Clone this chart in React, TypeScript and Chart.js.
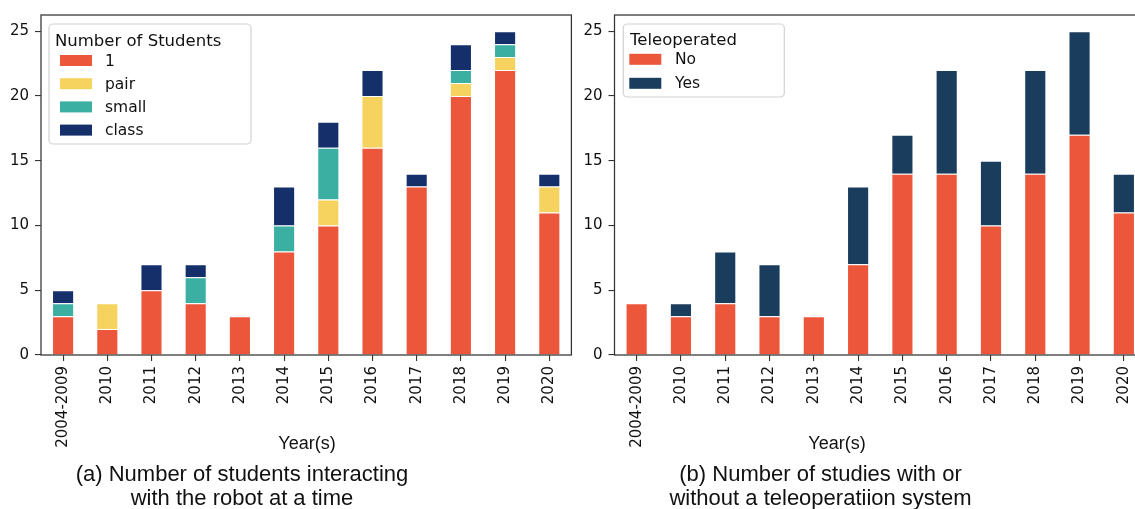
import React, { useEffect, useRef } from "react";
import { Chart, registerables } from "chart.js";

Chart.register(...registerables);

// ---------- data ----------
const YEARS = ["2004-2009", "2010", "2011", "2012", "2013", "2014", "2015", "2016", "2017", "2018", "2019", "2020"];

const STUDENTS_ONE = [3, 2, 5, 4, 3, 8, 10, 16, 13, 20, 22, 11];
const STUDENTS_PAIR = [0, 2, 0, 0, 0, 0, 2, 4, 0, 1, 1, 2];
const STUDENTS_SMALL = [1, 0, 0, 2, 0, 2, 4, 0, 0, 1, 1, 0];
const STUDENTS_CLASS = [1, 0, 2, 1, 0, 3, 2, 2, 1, 2, 1, 1];

const TELEOP_NO = [4, 3, 4, 3, 3, 7, 14, 14, 10, 14, 17, 11];
const TELEOP_YES = [0, 1, 4, 4, 0, 6, 3, 8, 5, 8, 8, 3];

const Y_TICKS = [0, 5, 10, 15, 20, 25];

const LEGEND_A_TITLE = "Number of Students";
const LEGEND_B_TITLE = "Teleoperated";
const X_TITLE = "Year(s)";
const CAPTION_A = ["(a) Number of students interacting", "with the robot at a time"];
const CAPTION_B = ["(b) Number of studies with or", "without a teleoperatiion system"];

// ---------- styles ----------
const COLOR_ONE = "#EC573B";
const COLOR_PAIR = "#F5D35E";
const COLOR_SMALL = "#3BAFA2";
const COLOR_CLASS = "#152F6B";
const COLOR_NO = "#EC573B";
const COLOR_YES = "#1A3D5E";
const TEXT_COLOR = "#111111";
const SPINE_COLOR = "#333333";
const DEJAVU = '"DejaVu Sans", sans-serif';
const ARIAL = '"Liberation Sans", Arial, sans-serif';

const framePlugin = {
  id: "frameBox",
  afterDatasetsDraw(chart: any) {
    const { ctx, chartArea } = chart;
    ctx.save();
    ctx.strokeStyle = SPINE_COLOR;
    ctx.lineWidth = 1.25;
    ctx.strokeRect(chartArea.left, chartArea.top, chartArea.right - chartArea.left, chartArea.bottom - chartArea.top);
    ctx.restore();
  },
};

const legendBoxPlugin = {
  id: "legendBox",
  afterDraw(chart: any, _args: any, opts: any) {
    if (!opts || !opts.title) return;
    const { ctx, chartArea } = chart;
    const x0 = chartArea.left + opts.x;
    const y0 = chartArea.top + opts.y;
    ctx.save();
    const r = 4;
    const w = opts.w;
    const h = opts.h;
    ctx.beginPath();
    ctx.moveTo(x0 + r, y0);
    ctx.lineTo(x0 + w - r, y0);
    ctx.arcTo(x0 + w, y0, x0 + w, y0 + r, r);
    ctx.lineTo(x0 + w, y0 + h - r);
    ctx.arcTo(x0 + w, y0 + h, x0 + w - r, y0 + h, r);
    ctx.lineTo(x0 + r, y0 + h);
    ctx.arcTo(x0, y0 + h, x0, y0 + h - r, r);
    ctx.lineTo(x0, y0 + r);
    ctx.arcTo(x0, y0, x0 + r, y0, r);
    ctx.closePath();
    ctx.fillStyle = "rgba(255,255,255,0.85)";
    ctx.fill();
    ctx.strokeStyle = "#d2d2d2";
    ctx.lineWidth = 1.2;
    ctx.stroke();

    ctx.fillStyle = TEXT_COLOR;
    ctx.textAlign = "left";
    ctx.textBaseline = "alphabetic";
    ctx.font = `16.5px ${DEJAVU}`;
    ctx.fillText(opts.title, x0 + opts.titleX, y0 + opts.titleY);

    ctx.font = `15.5px ${DEJAVU}`;
    ctx.textBaseline = "middle";
    chart.data.datasets.forEach((ds: any, i: number) => {
      const cy = y0 + opts.rowY + i * opts.rowStep;
      ctx.fillStyle = ds.backgroundColor;
      ctx.fillRect(x0 + opts.swatchX, cy - 5.5, 32, 11);
      ctx.fillStyle = TEXT_COLOR;
      ctx.fillText(ds.label, x0 + opts.labelX, cy + 1);
    });
    ctx.restore();
  },
};

const textPlugin = {
  id: "belowTexts",
  afterDraw(chart: any, _args: any, opts: any) {
    if (!opts || !opts.items) return;
    const { ctx } = chart;
    ctx.save();
    ctx.fillStyle = TEXT_COLOR;
    ctx.textAlign = "center";
    ctx.textBaseline = "alphabetic";
    opts.items.forEach((it: any) => {
      ctx.font = `${it.size}px ${ARIAL}`;
      ctx.fillText(it.text, it.x, it.y);
    });
    ctx.restore();
  },
};

function makeConfig(datasets: any[], p: any) {
  return {
    type: "bar",
    data: {
      labels: YEARS,
      datasets: datasets.map((d) => ({
        label: d.label,
        data: d.data,
        backgroundColor: d.color,
        borderColor: "rgba(255,255,255,0.45)",
        borderWidth: 1,
        barPercentage: 0.5,
        categoryPercentage: 1.0,
      })),
    },
    options: {
      responsive: false,
      animation: false,
      devicePixelRatio: 1,
      layout: { padding: { top: 10, right: p.padRight, left: 0, bottom: 0 } },
      scales: {
        x: {
          stacked: true,
          offset: true,
          grid: { display: true, drawOnChartArea: false, drawTicks: true, tickLength: 6, offset: false, color: SPINE_COLOR, lineWidth: 1.1 },
          border: { display: false },
          ticks: {
            autoSkip: false,
            minRotation: 90,
            maxRotation: 90,
            padding: 5,
            color: TEXT_COLOR,
            font: { family: DEJAVU, size: 15 },
          },
          afterFit(scale: any) {
            scale.height = 154;
          },
        },
        y: {
          stacked: true,
          min: 0,
          max: 26.25,
          grid: { display: true, drawOnChartArea: false, drawTicks: true, tickLength: 6, color: SPINE_COLOR, lineWidth: 1.1 },
          border: { display: false },
          ticks: {
            stepSize: 5,
            padding: 6,
            color: TEXT_COLOR,
            font: { family: DEJAVU, size: 15 },
          },
          afterBuildTicks(scale: any) {
            scale.ticks = Y_TICKS.map((v) => ({ value: v }));
          },
          afterFit(scale: any) {
            scale.width = p.yWidth;
          },
        },
      },
      plugins: {
        legend: { display: false },
        tooltip: { enabled: false },
        title: { display: false },
        legendBox: p.legend,
        belowTexts: { items: p.texts },
      },
    },
    plugins: [framePlugin, legendBoxPlugin, textPlugin],
  };
}

const CONFIG_A = () =>
  makeConfig(
    [
      { label: "1", data: STUDENTS_ONE, color: COLOR_ONE },
      { label: "pair", data: STUDENTS_PAIR, color: COLOR_PAIR },
      { label: "small", data: STUDENTS_SMALL, color: COLOR_SMALL },
      { label: "class", data: STUDENTS_CLASS, color: COLOR_CLASS },
    ],
    {
      padRight: 8.6,
      yWidth: 41,
      legend: { title: LEGEND_A_TITLE, x: 8, y: 9, w: 202, h: 120, titleX: 6, titleY: 22, swatchX: 11, labelX: 56, rowY: 36.5, rowStep: 23.2 },
      texts: [
        { text: X_TITLE, x: 307, y: 449, size: 18 },
        { text: CAPTION_A[0], x: 242, y: 481, size: 22 },
        { text: CAPTION_A[1], x: 242, y: 505, size: 22 },
      ],
    }
  );

const CONFIG_B = () =>
  makeConfig(
    [
      { label: "No", data: TELEOP_NO, color: COLOR_NO },
      { label: "Yes", data: TELEOP_YES, color: COLOR_YES },
    ],
    {
      padRight: 14,
      yWidth: 42.5,
      legend: { title: LEGEND_B_TITLE, x: 8.8, y: 9, w: 161, h: 73, titleX: 6.7, titleY: 21, swatchX: 6, labelX: 51.7, rowY: 35.3, rowStep: 24 },
      texts: [
        { text: X_TITLE, x: 265, y: 449, size: 18 },
        { text: CAPTION_B[0], x: 248.5, y: 481, size: 22 },
        { text: CAPTION_B[1], x: 248.5, y: 505, size: 22 },
      ],
    }
  );

function ChartCanvas({ left, width, build }: { left: number; width: number; build: () => any }) {
  const ref = useRef<HTMLCanvasElement | null>(null);
  useEffect(() => {
    if (!ref.current) return;
    const chart = new Chart(ref.current, build());
    return () => chart.destroy();
  }, [build]);
  return (
    <canvas
      ref={ref}
      width={width}
      height={509}
      style={{ position: "absolute", left, top: 0, width, height: 509, display: "block" }}
    />
  );
}

export default function App() {
  return (
    <div
      style={{
        position: "absolute",
        left: 0,
        top: 0,
        width: 1135,
        height: 509,
        overflow: "hidden",
        background: "#ffffff",
      }}
    >
      <ChartCanvas left={0} width={580} build={CONFIG_A} />
      <ChartCanvas left={572} width={588} build={CONFIG_B} />
    </div>
  );
}
